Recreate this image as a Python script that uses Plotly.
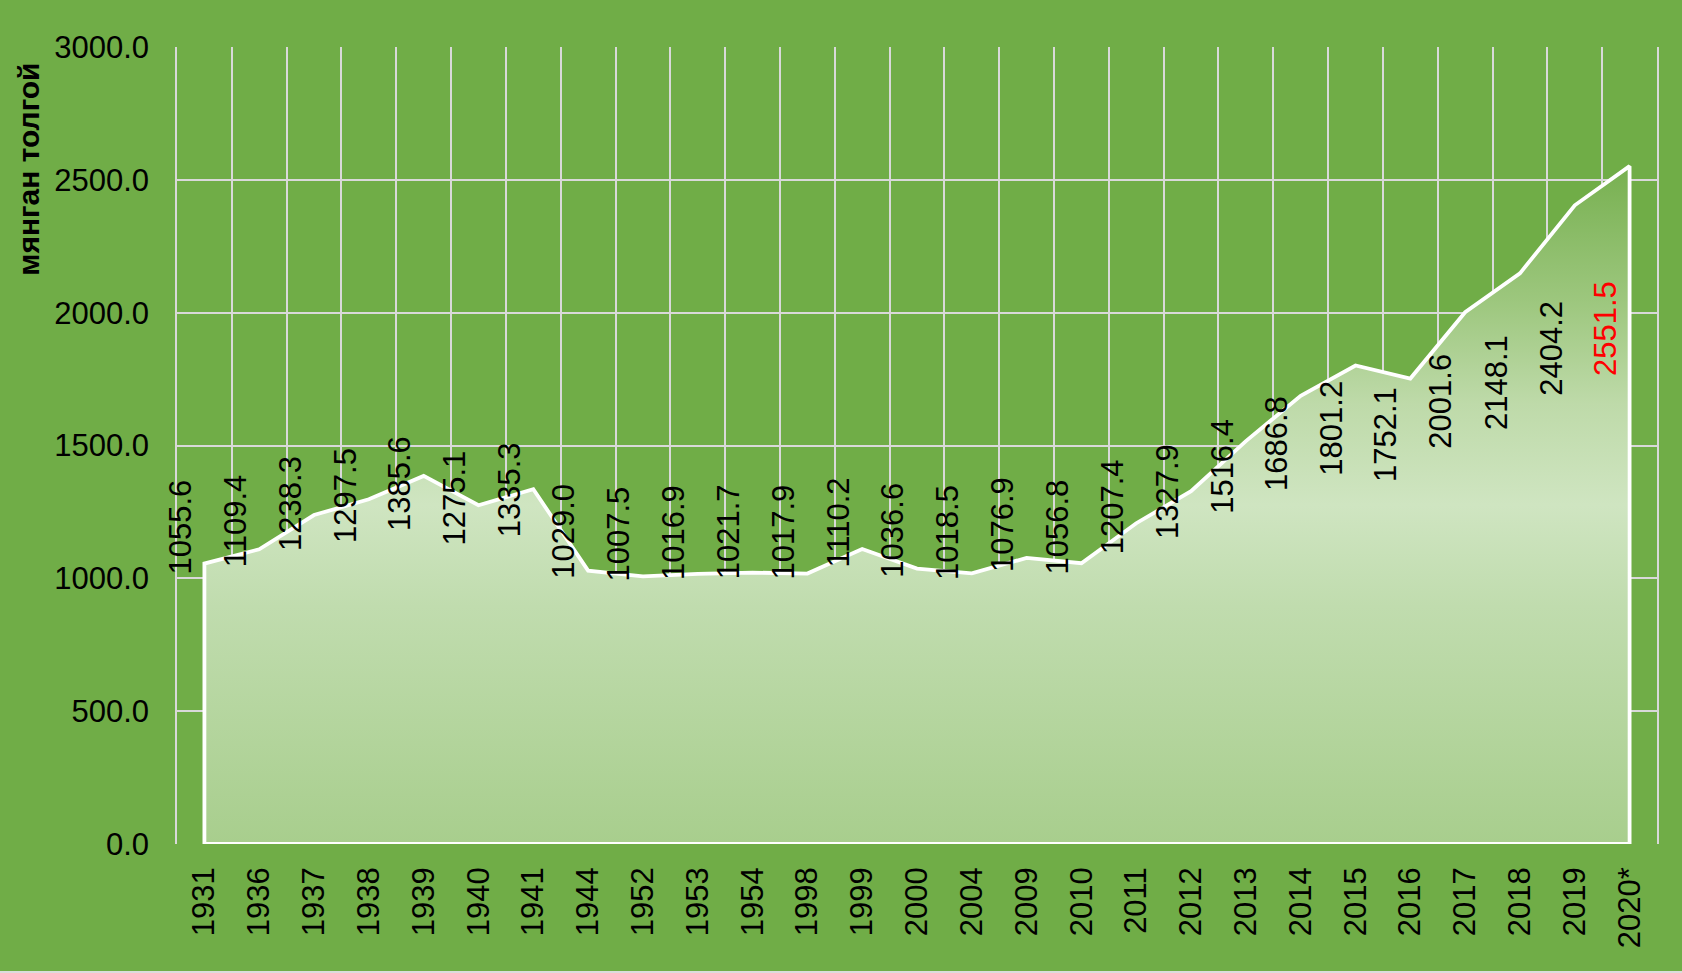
import plotly.graph_objects as go

categories = ["1931", "1936", "1937", "1938", "1939", "1940", "1941", "1944", "1952", "1953",
              "1954", "1998", "1999", "2000", "2004", "2009", "2010", "2011", "2012", "2013",
              "2014", "2015", "2016", "2017", "2018", "2019", "2020*"]
values = [1055.6, 1109.4, 1238.3, 1297.5, 1385.6, 1275.1, 1335.3, 1029.0, 1007.5, 1016.9,
          1021.7, 1017.9, 1110.2, 1036.6, 1018.5, 1076.9, 1056.8, 1207.4, 1327.9, 1516.4,
          1686.8, 1801.2, 1752.1, 2001.6, 2148.1, 2404.2, 2551.5]
y_ticks = [0, 500, 1000, 1500, 2000, 2500, 3000]

BG = "#70AD47"
GRID = "#d9d9d9"
FONT = "Liberation Sans, Arial, sans-serif"
FS = 31

n = len(categories)
poly_x = [categories[0]] + categories + [categories[-1], categories[0]]
poly_y = [0] + values + [0, 0]

fig = go.Figure()
fig.add_trace(go.Scatter(
    x=poly_x, y=poly_y, mode="lines", fill="toself",
    line=dict(color="white", width=3.8),
    fillgradient=dict(
        type="vertical",
        colorscale=[[0.0, "#a8ce8d"], [0.35, "#c0dcae"], [0.5, "#cfe5c1"],
                    [0.65, "#bedaa9"], [0.8, "#9dc77e"], [1.0, "#77b050"]],
    ),
    hoverinfo="skip", showlegend=False,
))

annotations = []
for i, v in enumerate(values):
    annotations.append(dict(
        x=i - 0.44, y=v / 2 + 478, xref="x", yref="y",
        text=f"{v:.1f}", showarrow=False, textangle=-90,
        xanchor="center", yanchor="bottom",
        font=dict(family=FONT, size=FS, color="red" if i == n - 1 else "black"),
    ))
annotations.append(dict(
    x=-0.1, y=0.846, xref="paper", yref="paper", text="<b>мянган толгой</b>",
    showarrow=False, textangle=-90, xanchor="center", yanchor="middle",
    font=dict(family=FONT, size=30, color="black"),
))

fig.update_layout(
    width=1682, height=971,
    margin=dict(l=177, r=25, t=47, b=127),
    paper_bgcolor=BG, plot_bgcolor=BG,
    annotations=annotations,
    font=dict(family=FONT, size=FS, color="black"),
)
fig.update_xaxes(
    type="category",
    range=[-0.5, n - 0.5],
    categoryorder="array", categoryarray=categories,
    tickangle=-90, tickson="boundaries",
    showgrid=True, gridcolor=GRID, gridwidth=1.5,
    ticks="", ticklabelstandoff=16,
    showline=False, zeroline=False,
    tickfont=dict(family=FONT, size=FS, color="black"),
)
fig.update_yaxes(
    range=[0, 3000], tickvals=y_ticks, tickformat=".1f",
    showgrid=True, gridcolor=GRID, gridwidth=1.5,
    ticks="", ticklabelstandoff=20, zeroline=False,
    showline=True, linecolor=GRID, linewidth=1.5, mirror=True,
    tickfont=dict(family=FONT, size=FS, color="black"),
)

fig.write_html(
    "out.html",
    config={"displayModeBar": False},
    post_script="document.body.style.margin='0';document.body.style.background='#dcdcdc';",
)
